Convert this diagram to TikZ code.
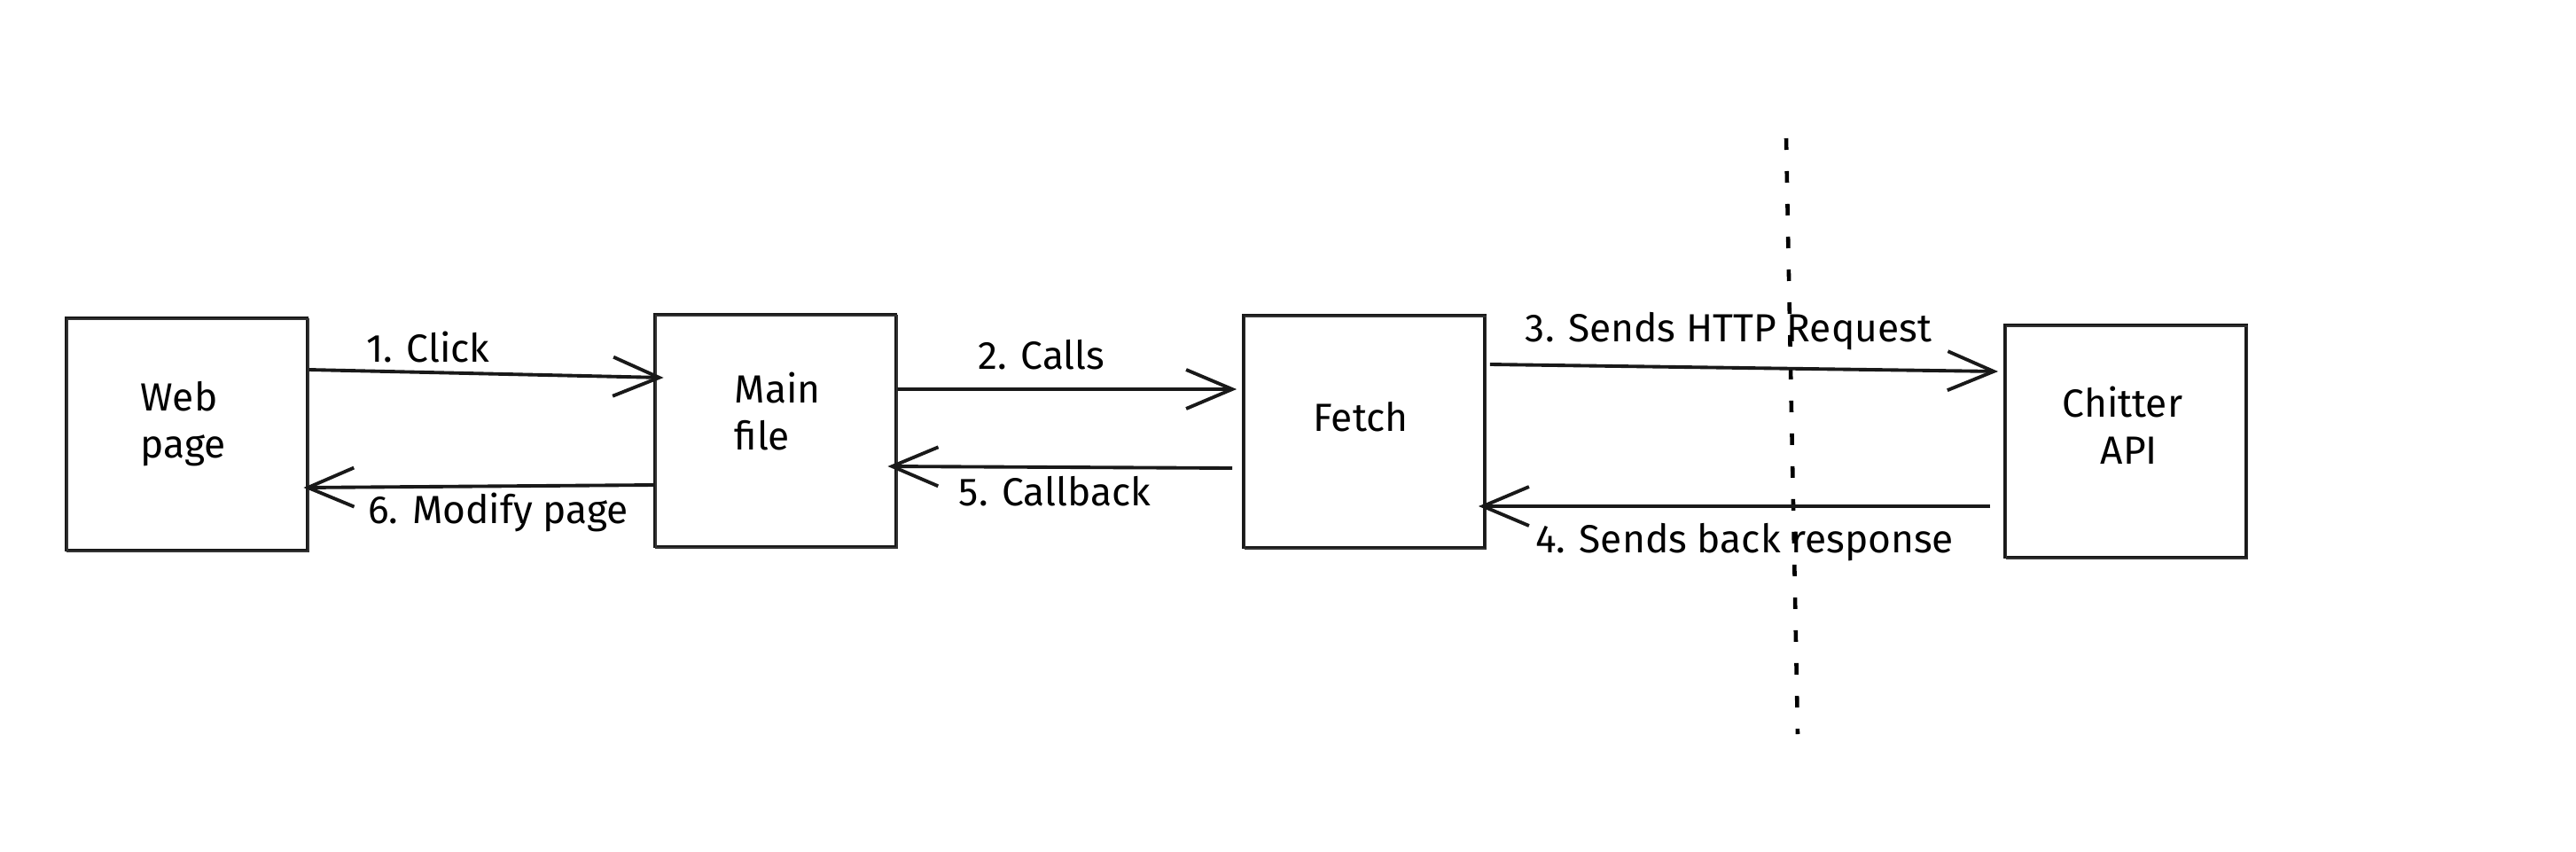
\documentclass[tikz,border=0pt]{standalone}
\usepackage{fontspec}
\setmainfont{Fira Sans}
\usetikzlibrary{arrows.meta,calc}
\begin{document}
\begin{tikzpicture}[
  sketchbox/.style={draw=black!90, line width=1.1pt, minimum width=2.72cm, minimum height=2.62cm, inner sep=0pt,
    postaction={draw=black!80, line width=0.5pt, transform canvas={shift={(0.015,-0.012)}}}},
  boxtext/.style={font=\fontsize{12.6}{15}\selectfont, text=black, inner sep=0pt},
  lbl/.style={font=\fontsize{12.6}{15}\selectfont, text=black, inner sep=0pt},
  conn/.style={draw=black!90, line width=1.1pt, -{Straight Barb[length=0.52cm,width=0.44cm,line width=1.1pt]}},
  divider/.style={draw=black, line width=1.3pt, dash pattern=on 0.13cm off 0.24cm}
]
\useasboundingbox[fill=white] (0,0) rectangle (29.06,9.60);

% boxes
\node[sketchbox] (web)   at (2.105,4.705) {};
\node[sketchbox] (main)  at (8.745,4.745) {};
\node[sketchbox] (fetch) at (15.39,4.735) {};
\node[sketchbox] (api)   at (23.98,4.625) {};

% box texts
\node[boxtext, align=left, anchor=west] (webtxt) at (1.58,4.82) {Web\\page};
\node[boxtext, align=left, anchor=west] (maintxt) at (8.28,4.96) {Main\\file};
\node[boxtext] (fetchtxt) at (15.35,4.90) {Fetch};
\node[boxtext, align=left, anchor=west] (apitxt) at (23.26,4.80) {Chitter\\\hspace*{0.43cm}API};

% divider
\coordinate (divtop) at (20.15,8.04);
\coordinate (divbot) at (20.28,1.32);
\draw[divider] (divtop) -- (divbot);

% connectors
\draw[conn] ([yshift=0.725cm]web.east) -- ([shift={(0.12,0.595)}]main.west);
\draw[conn] ([shift={(0.02,-0.615)}]main.west) -- ([shift={(-0.06,-0.605)}]web.east);
\draw[conn] ([yshift=0.465cm]main.east) -- ([shift={(-0.06,0.475)}]fetch.west);
\draw[conn] ([shift={(-0.11,-0.415)}]fetch.west) -- ([shift={(-0.11,-0.405)}]main.east);
\draw[conn] ([shift={(0.04,0.755)}]fetch.east) -- ([shift={(-0.06,0.785)}]api.west);
\draw[conn] ([shift={(-0.15,-0.735)}]api.west) -- ([shift={(-0.09,-0.845)}]fetch.east);

% labels
\node[lbl] (l1) at (4.83,5.69) {1. Click};
\node[lbl] (l6) at (5.62,3.82) {6. Modify page};
\node[lbl] (l2) at (11.75,5.60) {2. Calls};
\node[lbl] (l5) at (11.90,4.06) {5. Callback};
\node[lbl] (l3) at (19.50,5.86) {3. Sends HTTP Request};
\node[lbl] (l4) at (19.68,3.48) {4. Sends back response};
\end{tikzpicture}
\end{document}
